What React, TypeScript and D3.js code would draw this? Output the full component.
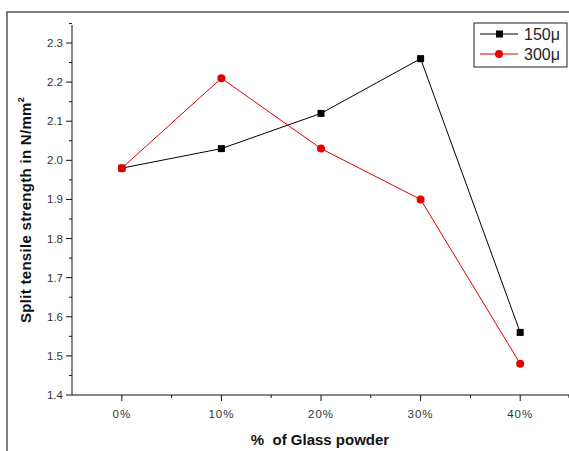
import * as d3 from 'd3';
import { useEffect, useRef } from 'react';

const categories = ['0%', '10%', '20%', '30%', '40%'];
const series150 = [1.98, 2.03, 2.12, 2.26, 1.56];
const series300 = [1.98, 2.21, 2.03, 1.9, 1.48];
const yTicks = [1.4, 1.5, 1.6, 1.7, 1.8, 1.9, 2.0, 2.1, 2.2, 2.3];
const seriesNames = ['150μ', '300μ'];

const W = 569;
const H = 451;
const font = 'Arial, "Liberation Sans", sans-serif';

export default function App() {
  const svgRef = useRef<SVGSVGElement>(null);

  useEffect(() => {
    const svgEl = svgRef.current;
    if (!svgEl) return;
    const svg = d3.select(svgEl);
    svg.selectAll('*').remove();

    const left = 72;
    const right = 570;
    const top = 25;
    const bottom = 395;

    const x = d3.scaleLinear().domain([-0.5, 4.5]).range([left, right]);
    const y = d3.scaleLinear().domain([1.4, 2.3]).range([bottom, 43]);

    svg.append('rect').attr('width', W).attr('height', H).attr('fill', '#fff');

    // outer frame
    svg
      .append('rect')
      .attr('x', 7)
      .attr('y', 12)
      .attr('width', 600)
      .attr('height', 500)
      .attr('fill', 'none')
      .attr('stroke', '#555')
      .attr('stroke-width', 1.5);

    // y axis
    const yAxis = svg.append('g').attr('stroke', '#111').attr('stroke-width', 1);
    yAxis.append('line').attr('x1', left).attr('x2', left).attr('y1', top).attr('y2', bottom);
    const yMinor = d3.range(1.45, 2.36, 0.1);
    yAxis
      .selectAll('.ymaj')
      .data(yTicks)
      .join('line')
      .attr('x1', left - 6)
      .attr('x2', left)
      .attr('y1', (d) => y(d))
      .attr('y2', (d) => y(d));
    yAxis
      .selectAll('.ymin')
      .data(yMinor)
      .join('line')
      .attr('x1', left - 3)
      .attr('x2', left)
      .attr('y1', (d) => y(d))
      .attr('y2', (d) => y(d));
    svg
      .selectAll('.ylab')
      .data(yTicks)
      .join('text')
      .attr('x', left - 9)
      .attr('y', (d) => y(d))
      .attr('dy', '0.35em')
      .attr('text-anchor', 'end')
      .attr('font-family', font)
      .attr('font-size', 11.5)
      .attr('fill', '#333')
      .text((d) => d.toFixed(1));

    // x axis
    const xAxis = svg.append('g').attr('stroke', '#111').attr('stroke-width', 1);
    xAxis.append('line').attr('x1', left).attr('x2', right).attr('y1', bottom).attr('y2', bottom);
    xAxis
      .selectAll('.xmaj')
      .data(categories.map((_, i) => i))
      .join('line')
      .attr('x1', (d) => x(d))
      .attr('x2', (d) => x(d))
      .attr('y1', bottom)
      .attr('y2', bottom + 6);
    xAxis
      .selectAll('.xmin')
      .data([0.5, 1.5, 2.5, 3.5, 4.5])
      .join('line')
      .attr('x1', (d) => x(d) - (d === 4.5 ? 1 : 0))
      .attr('x2', (d) => x(d) - (d === 4.5 ? 1 : 0))
      .attr('y1', bottom)
      .attr('y2', bottom + 3);
    svg
      .selectAll('.xlab')
      .data(categories)
      .join('text')
      .attr('x', (_, i) => x(i))
      .attr('y', bottom + 23)
      .attr('text-anchor', 'middle')
      .attr('font-family', font)
      .attr('font-size', 11.5)
      .attr('letter-spacing', 1)
      .attr('fill', '#333')
      .text((d) => d);

    // axis titles
    svg
      .append('text')
      .attr('x', 320)
      .attr('y', 445)
      .attr('text-anchor', 'middle')
      .attr('font-family', font)
      .attr('font-size', 15)
      .attr('font-weight', 'bold')
      .attr('fill', '#111')
      .attr('xml:space', 'preserve')
      .style('white-space', 'pre')
      .text('%  of Glass powder');

    const yt = svg
      .append('text')
      .attr('transform', 'translate(31,210) rotate(-90)')
      .attr('text-anchor', 'middle')
      .attr('font-family', font)
      .attr('font-size', 15)
      .attr('font-weight', 'bold')
      .attr('letter-spacing', 0.3)
      .attr('fill', '#111');
    yt.append('tspan').text('Split tensile strength in N/mm');
    yt.append('tspan').attr('font-size', 9).attr('dy', -7).text('2');

    const line = d3
      .line<number>()
      .x((_, i) => x(i))
      .y((d) => y(d));

    // 150μ series
    svg
      .append('path')
      .datum(series150)
      .attr('d', line)
      .attr('fill', 'none')
      .attr('stroke', '#000')
      .attr('stroke-width', 1);
    // 300μ series
    svg
      .append('path')
      .datum(series300)
      .attr('d', line)
      .attr('fill', 'none')
      .attr('stroke', '#e00000')
      .attr('stroke-width', 1);

    svg
      .selectAll('.sq')
      .data(series150)
      .join('rect')
      .attr('x', (_, i) => x(i) - 3.5)
      .attr('y', (d) => y(d) - 3.5)
      .attr('width', 7)
      .attr('height', 7)
      .attr('fill', '#000');
    svg
      .selectAll('.dot')
      .data(series300)
      .join('circle')
      .attr('cx', (_, i) => x(i))
      .attr('cy', (d) => y(d))
      .attr('r', 4)
      .attr('fill', '#e60000');

    // legend
    const lg = svg.append('g');
    lg.append('rect')
      .attr('x', 474)
      .attr('y', 23)
      .attr('width', 93)
      .attr('height', 44)
      .attr('fill', '#fff')
      .attr('stroke', '#222')
      .attr('stroke-width', 1);
    const colors = ['#000', '#e00000'];
    seriesNames.forEach((name, i) => {
      const ly = 34 + i * 20;
      lg.append('line')
        .attr('x1', 480)
        .attr('x2', 518)
        .attr('y1', ly)
        .attr('y2', ly)
        .attr('stroke', colors[i]);
      if (i === 0) {
        lg.append('rect').attr('x', 496).attr('y', ly - 3.5).attr('width', 7).attr('height', 7).attr('fill', '#000');
      } else {
        lg.append('circle').attr('cx', 499).attr('cy', ly).attr('r', 4).attr('fill', '#e60000');
      }
      lg.append('text')
        .attr('x', 524)
        .attr('y', ly)
        .attr('dy', '0.35em')
        .attr('font-family', font)
        .attr('font-size', 16)
        .attr('fill', '#222')
        .text(name);
    });
  }, []);

  return (
    <svg
      ref={svgRef}
      width={W}
      height={H}
      style={{ position: 'absolute', left: 0, top: 0, display: 'block' }}
    />
  );
}
